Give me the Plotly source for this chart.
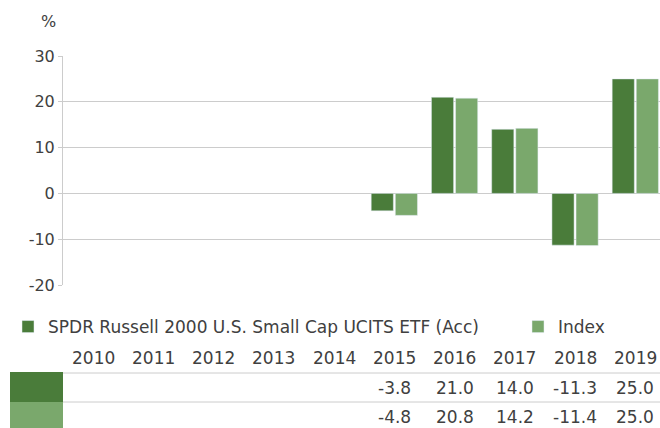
import plotly.graph_objects as go

years = ["2010", "2011", "2012", "2013", "2014", "2015", "2016", "2017", "2018", "2019"]
etf_values = [None, None, None, None, None, -3.8, 21.0, 14.0, -11.3, 25.0]
index_values = [None, None, None, None, None, -4.8, 20.8, 14.2, -11.4, 25.0]
etf_name = "SPDR Russell 2000 U.S. Small Cap UCITS ETF (Acc)"
index_name = "Index"
y_ticks = [-20, -10, 0, 10, 20, 30]
y_tick_labels = ["-20", "-10", "0", "10", "20", "30"]

W, H = 660, 428
DARK = "#4A7C3A"
LIGHT = "#7AA86C"
GRID = "#CCCCCC"
TXT = "#404040"
FONT = "DejaVu Sans"


def px(x):
    return x / W


def py(y):
    return (H - y) / H


fig = go.Figure()
fig.add_trace(go.Bar(x=years, y=etf_values, name=etf_name, marker_color=DARK, legend="legend"))
fig.add_trace(go.Bar(x=years, y=index_values, name=index_name, marker_color=LIGHT, legend="legend2"))

fig.update_layout(
    width=W, height=H,
    margin=dict(l=0, r=0, t=0, b=0, autoexpand=False),
    paper_bgcolor="white", plot_bgcolor="white",
    barmode="group", bargap=0.2, bargroupgap=0.08,
    font=dict(family=FONT, size=16, color=TXT),
    showlegend=True,
    legend=dict(orientation="h", x=px(8), y=py(327), xanchor="left", yanchor="middle",
                font=dict(size=17, color=TXT), bgcolor="rgba(0,0,0,0)"),
    legend2=dict(orientation="h", x=px(518), y=py(327), xanchor="left", yanchor="middle",
                 font=dict(size=17, color=TXT), bgcolor="rgba(0,0,0,0)"),
    xaxis=dict(domain=[px(63), 1], range=[-0.5, 9.41], showticklabels=False,
               showgrid=False, zeroline=False, showline=False, type="category",
               automargin=False),
    yaxis=dict(domain=[py(285), py(56)], range=[-20, 30],
               tickvals=y_ticks, ticktext=y_tick_labels,
               showgrid=True, gridcolor=GRID, gridwidth=1, zeroline=False,
               showline=True, linecolor=GRID, linewidth=1,
               ticks="outside", ticklen=4, tickcolor=GRID, automargin=False,
               tickfont=dict(size=16, color=TXT)),
)

annotations = [dict(text="%", x=px(48), y=py(21), xref="paper", yref="paper",
                    xanchor="center", yanchor="middle",
                    showarrow=False, font=dict(size=16, color=TXT))]
for i, yr in enumerate(years):
    annotations.append(dict(text=yr, x=i, xref="x", y=py(358), yref="paper",
                            xanchor="center", yanchor="middle",
                            showarrow=False, font=dict(size=17, color=TXT)))
    for vals, yy in ((etf_values, 388), (index_values, 417)):
        if vals[i] is not None:
            annotations.append(dict(text=f"{vals[i]:.1f}", x=i, xref="x", y=py(yy), yref="paper",
                                    xanchor="center", yanchor="middle",
                                    showarrow=False, font=dict(size=17, color=TXT)))
fig.update_layout(annotations=annotations)

shapes = [
    dict(type="line", xref="paper", yref="paper", x0=px(63), x1=1, y0=py(373), y1=py(373),
         line=dict(color=GRID, width=1)),
    dict(type="line", xref="paper", yref="paper", x0=px(63), x1=1, y0=py(402), y1=py(402),
         line=dict(color=GRID, width=1)),
    dict(type="rect", xref="paper", yref="paper", x0=px(10), x1=px(63), y0=py(402), y1=py(372),
         fillcolor=DARK, line=dict(width=0)),
    dict(type="rect", xref="paper", yref="paper", x0=px(10), x1=px(63), y0=py(428), y1=py(402),
         fillcolor=LIGHT, line=dict(width=0)),
]
fig.update_layout(shapes=shapes)

fig.write_html("out.html", config={"displayModeBar": False},
               post_script="document.body.style.margin='0';document.body.style.overflow='hidden';")
